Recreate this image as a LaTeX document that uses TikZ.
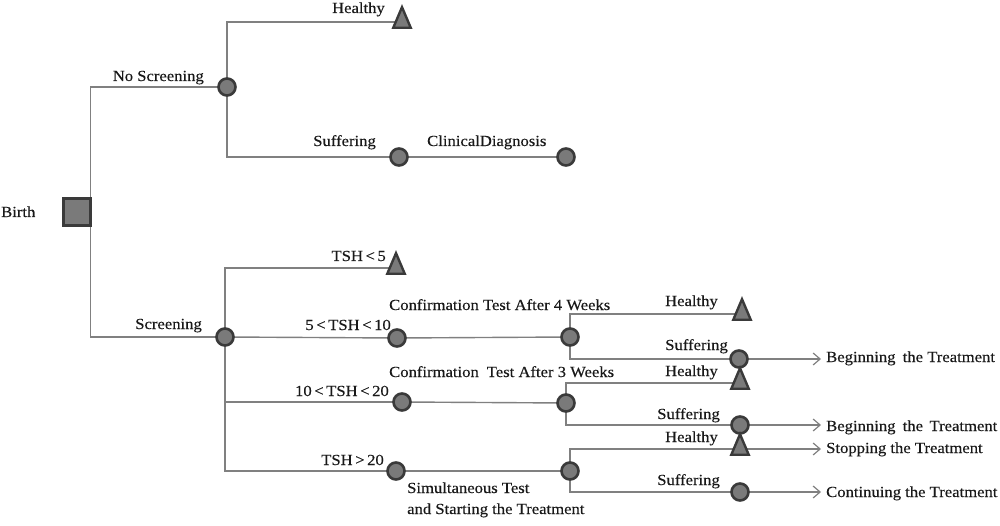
\documentclass[tikz,border=0pt]{standalone}
\usepackage{fontspec}
\setmainfont{Liberation Serif}[FakeStretch=1.08,FakeBold=0.3]
\usetikzlibrary{shapes.geometric,arrows.meta,backgrounds}
\definecolor{linegray}{RGB}{128,128,128}
\definecolor{nodefill}{RGB}{122,122,122}
\definecolor{nodeedge}{RGB}{58,58,58}
\definecolor{txt}{RGB}{25,25,25}
\begin{document}
\begin{tikzpicture}[x=1pt,y=-1pt,
  chance/.style={circle, draw=nodeedge, fill=nodefill, line width=2.6pt, minimum size=17pt, inner sep=0pt},
  term/.style={isosceles triangle, isosceles triangle apex angle=46, shape border rotate=90, draw=nodeedge, fill=nodefill, line width=2.4pt, minimum height=17.5pt, minimum width=17.5pt, inner sep=0pt},
  decision/.style={rectangle, draw=nodeedge, fill=nodefill, line width=2.8pt, minimum size=27pt, inner sep=0pt},
  lbl/.style={inner sep=0pt, text=txt, font=\fontsize{15.4}{18}\selectfont},
  branch/.style={draw=linegray, line width=1.4pt},
  arr/.style={branch, -{Straight Barb[length=7pt,width=12pt,line width=1.2pt]}, shorten >=5pt},
]
\useasboundingbox (0,0) rectangle (1000,526);

% decision node
\node[decision] (birth) at (77,212) {};
\node[lbl, anchor=base west] (birthL) at (1,217) {Birth};

% no screening branch
\node[chance] (ns) at (227,87) {};
\node[term] (nsH) at (402,22) {};
\node[chance] (nsS) at (399,157) {};
\node[chance] (nsC) at (566,157) {};
\node[lbl, anchor=base east] at (204,81) {No Screening};
\node[lbl, anchor=base east] at (385,13) {Healthy};
\node[lbl, anchor=base east] at (376,146) {Suffering};
\node[lbl, anchor=base west] at (427,146) {ClinicalDiagnosis};

% screening branch
\node[chance] (scr) at (225,337) {};
\node[lbl, anchor=base east] at (202,329) {Screening};
\node[term] (t5) at (396,268) {};
\node[lbl, anchor=base east] at (386,261) {TSH\,<\,5};
\node[chance] (n510) at (397,338) {};
\node[lbl, anchor=base east] at (391,330) {5\,<\,TSH\,<\,10};
\node[chance] (c4) at (570,337) {};
\node[lbl, anchor=base west] at (389,310) {Confirmation Test After 4 Weeks};
\node[chance] (n1020) at (402,402) {};
\node[lbl, anchor=base east] at (389,396) {10\,<\,TSH\,<\,20};
\node[chance] (c3) at (566,403) {};
\node[lbl, anchor=base west] at (389,377) {Confirmation\hspace{0.25em} Test After 3 Weeks};
\node[chance] (n20) at (396,471) {};
\node[lbl, anchor=base east] at (384,465) {TSH\,>\,20};
\node[chance] (c2) at (570,471) {};
\node[lbl, anchor=base west] at (407,493) {Simultaneous Test};
\node[lbl, anchor=base west] at (407,514) {and Starting the Treatment};

% third level
\node[term] (c4H) at (742,314) {};
\node[chance] (c4S) at (739,359) {};
\node[lbl, anchor=base east] at (718,306) {Healthy};
\node[lbl, anchor=base east] at (728,350) {Suffering};
\node[lbl, anchor=base west] (beg1) at (826,362) {Beginning\hspace{0.2em} the Treatment};

\node[term] (c3H) at (740,383) {};
\node[chance] (c3S) at (740,425) {};
\node[lbl, anchor=base east] at (718,376) {Healthy};
\node[lbl, anchor=base east] at (720,419) {Suffering};
\node[lbl, anchor=base west] (beg2) at (826,431) {Beginning\hspace{0.2em} the\hspace{0.15em} Treatment};

\node[term] (c2H) at (740,449) {};
\node[chance] (c2S) at (740,492) {};
\node[lbl, anchor=base east] at (718,442) {Healthy};
\node[lbl, anchor=base east] at (720,485) {Suffering};
\node[lbl, anchor=base west] (stop) at (826,453) {Stopping the Treatment};
\node[lbl, anchor=base west] (cont) at (826,497) {Continuing the Treatment};

\begin{scope}[on background layer]
  \draw[branch] ([xshift=-1.4pt]birth.north east) |- (ns.center);
  \draw[branch] ([xshift=-1.4pt]birth.south east) |- (scr.center);
  \draw[branch] (ns.center) |- (nsH.center);
  \draw[branch] (ns.center) |- (nsS.center);
  \draw[branch] (nsS.center) -- (nsC.center);
  \draw[branch] (scr.center) |- (t5.center);
  \draw[branch] (scr.center) -- (n510.center) -- (c4.center);
  \draw[branch] (scr.center) |- (n1020.center);
  \draw[branch] (n1020.center) -- (c3.center);
  \draw[branch] (scr.center) |- (n20.center);
  \draw[branch] (n20.center) -- (c2.center);
  \draw[branch] (c4.center) |- (c4H.center);
  \draw[branch] (c4.center) |- (c4S.center);
  \draw[branch] (c3.center) |- (c3H.center);
  \draw[branch] (c3.center) |- (c3S.center);
  \draw[branch] (c2.center) |- (c2H.center);
  \draw[branch] (c2.center) |- (c2S.center);
  \draw[arr] (c4S.center) -- (c4S.center -| beg1.west);
  \draw[arr] (c3S.center) -- (c3S.center -| beg2.west);
  \draw[arr] (c2H.center) -- (c2H.center -| stop.west);
  \draw[arr] (c2S.center) -- (c2S.center -| cont.west);
\end{scope}
\end{tikzpicture}
\end{document}
